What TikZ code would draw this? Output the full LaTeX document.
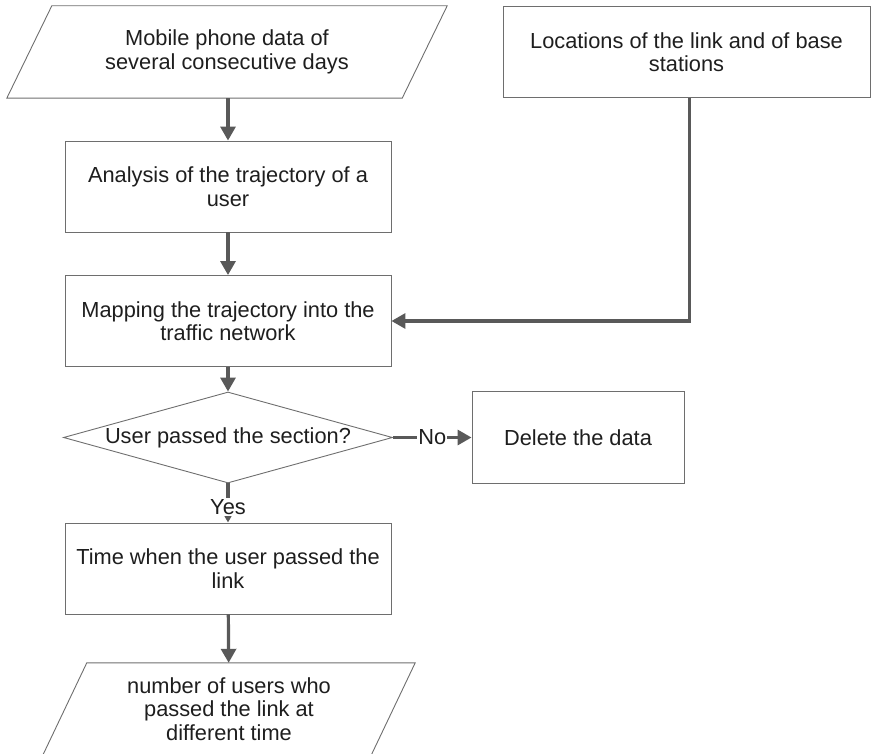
\documentclass[tikz,border=0pt]{standalone}
\usepackage{fontspec}
\setmainfont{Liberation Sans}
\usepackage{tikz}
\usetikzlibrary{shapes.geometric, arrows.meta, positioning}
\definecolor{edgegray}{HTML}{6E6E6E}
\definecolor{flowgray}{HTML}{595959}
\definecolor{txtgray}{HTML}{1E1E1E}

\begin{document}
\begin{tikzpicture}[x=1pt, y=-1pt,
  every node/.style={font=\fontsize{21.8}{23.5}\selectfont, text=txtgray, align=center},
  stepbox/.style={draw=edgegray, line width=0.9pt, rectangle, minimum width=326pt, minimum height=91pt, inner sep=0pt},
  iotext/.style={rectangle, minimum height=92pt, inner sep=0pt},
  iodraw/.style={draw=edgegray, line width=0.9pt},
  decide/.style={draw=edgegray, line width=0.9pt, diamond, aspect=3.6, minimum width=329pt, minimum height=91pt, inner sep=0pt},
  flow/.style={draw=flowgray, line width=3.2pt, -{Triangle[length=14pt,width=15pt]}},
  flowlabel/.style={fill=white, inner sep=1pt}]
\useasboundingbox (0,0) rectangle (871,754);
%
\node[iotext, minimum width=395pt] (data) at (227,52) {Mobile phone data of\\several consecutive days};
\node[stepbox, minimum width=367pt] (loc) at (686.5,52) {Locations of the link and of base\\stations};
\node[stepbox] (traj) at (228,186.5) {Analysis of the trajectory of a\\user};
\node[stepbox] (map) at (228,321) {Mapping the trajectory into the\\traffic network};
\node[decide] (pass) at (228,437.5) {User passed the section?};
\node[stepbox, minimum width=212pt, minimum height=92pt] (del) at (578,437.5) {Delete the data};
\node[stepbox] (time) at (228,568.5) {Time when the user passed the\\link};
\node[iotext, minimum width=328pt] (count) at (229,709) {number of users who\\passed the link at\\different time};
%
\draw[iodraw] ([xshift=22.5pt]data.north west) -- ([xshift=22.5pt]data.north east)
  -- ([xshift=-22.5pt]data.south east) -- ([xshift=-22.5pt]data.south west) -- cycle;
\draw[iodraw] ([xshift=22pt]count.north west) -- ([xshift=22pt]count.north east)
  -- ([xshift=-22pt]count.south east) -- ([xshift=-22pt]count.south west) -- cycle;
%
\draw[flow] (data.south -| traj) -- (traj);
\draw[flow] (traj) -- (map);
\draw[flow] ([xshift=3pt]loc.south) |- (map.east);
\draw[flow] (map) -- (pass);
\draw[flow] (pass) -- node[flowlabel] {No} (del);
\draw[flow] (pass) -- node[flowlabel, pos=0.6] {Yes} (time);
\draw[flow] (time) -- (count);
%
\end{tikzpicture}
\end{document}
